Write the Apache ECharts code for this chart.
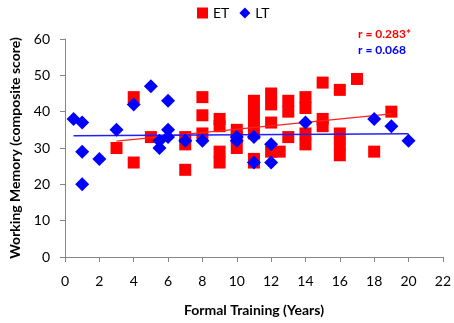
<!DOCTYPE html>
<html>
<head>
<meta charset="utf-8">
<script src="https://cdn.jsdelivr.net/npm/echarts@6/dist/echarts.min.js"></script>
<style>
  html, body { margin: 0; padding: 0; background: #fff; }
  #chart { width: 454px; height: 323px; }
</style>
</head>
<body>
<div id="chart"></div>
<script>
// ET group (red squares): [years, score]
var etPoints = [
  [3, 30],
  [4, 44], [4, 26],
  [5, 33],
  [7, 33], [7, 31], [7, 24],
  [8, 44], [8, 39], [8, 34],
  [9, 38], [9, 36], [9, 29], [9, 26],
  [10, 35], [10, 33], [10, 30],
  [11, 43], [11, 40], [11, 37], [11, 34], [11, 27], [11, 26],
  [12, 45], [12, 42], [12, 37], [12, 29], [12.5, 29],
  [13, 43], [13, 40], [13, 33],
  [14, 44], [14, 41], [14, 34], [14, 31],
  [15, 48], [15, 38], [15, 36],
  [16, 46], [16, 34], [16, 31], [16, 28],
  [17, 49],
  [18, 29],
  [19, 40]
];

// LT group (blue diamonds)
var ltPoints = [
  [0.5, 38],
  [1, 37], [1, 29], [1, 20],
  [2, 27],
  [3, 35],
  [4, 42],
  [5, 47],
  [5.5, 32], [5.5, 30],
  [6, 43], [6, 35], [6, 33],
  [7, 32],
  [8, 32],
  [10, 33], [10, 32],
  [11, 33], [11, 26],
  [12, 31], [12, 26],
  [14, 37],
  [18, 38],
  [19, 36],
  [20, 32]
];

// trend line end points
var etTrend = [[3, 31.9], [19, 39.4]];
var ltTrend = [[0.5, 33.4], [20, 33.9]];

var xTicks = [0, 2, 4, 6, 8, 10, 12, 14, 16, 18, 20, 22];
var yTicks = [0, 10, 20, 30, 40, 50, 60];

var chart = echarts.init(document.getElementById("chart"));

var axisFont = "Lato, 'Open Sans', sans-serif";

var option = {
  animation: false,
  textStyle: { fontFamily: axisFont },
  legend: {
    top: 1,
    left: 192,
    itemGap: 10,
    itemWidth: 11,
    itemHeight: 11,
    textStyle: { fontSize: 14, color: "#000", fontFamily: axisFont },
    data: [
      { name: "ET", icon: "rect" },
      { name: "LT", icon: "diamond" }
    ]
  },
  grid: {
    left: 59,
    right: 9,
    top: 39,
    bottom: 66
  },
  xAxis: {
    type: "value",
    min: xTicks[0],
    max: xTicks[xTicks.length - 1],
    interval: 2,
    name: "Formal Training (Years)",
    nameLocation: "middle",
    nameGap: 46,
    nameTextStyle: { fontSize: 14, fontWeight: "bold", color: "#000", fontFamily: axisFont },
    axisLine: { lineStyle: { color: "#868686", width: 1 } },
    axisTick: { show: true, inside: false, length: 5, lineStyle: { color: "#868686" } },
    axisLabel: { fontSize: 14, color: "#000", margin: 17, fontFamily: axisFont },
    splitLine: { show: false }
  },
  yAxis: {
    type: "value",
    min: yTicks[0],
    max: yTicks[yTicks.length - 1],
    interval: 10,
    name: "Working Memory (composite score)",
    nameLocation: "middle",
    nameGap: 43,
    nameTextStyle: { fontSize: 14, fontWeight: "bold", color: "#000", fontFamily: axisFont },
    axisLine: { show: true, lineStyle: { color: "#868686", width: 1 } },
    axisTick: { show: true, inside: false, length: 5, lineStyle: { color: "#868686" } },
    axisLabel: { fontSize: 14, color: "#000", margin: 15, fontFamily: axisFont },
    splitLine: { show: false }
  },
  graphic: [
    {
      type: "text",
      left: 358,
      top: 28,
      style: { text: "r = 0.283*", fill: "#ff0000", font: "bold 12px " + axisFont }
    },
    {
      type: "text",
      left: 358,
      top: 44,
      style: { text: "r = 0.068", fill: "#0000ff", font: "bold 12px " + axisFont }
    }
  ],
  series: [
    {
      name: "ET",
      type: "scatter",
      symbol: "rect",
      symbolSize: 12,
      itemStyle: { color: "#ff0000", opacity: 1 },
      data: etPoints,
      z: 2
    },
    {
      name: "ET trend",
      type: "line",
      data: etTrend,
      symbol: "none",
      lineStyle: { color: "#ff2020", width: 1.2 },
      z: 3
    },
    {
      name: "LT trend",
      type: "line",
      data: ltTrend,
      symbol: "none",
      lineStyle: { color: "#2020ff", width: 1.5 },
      z: 3
    },
    {
      name: "LT",
      type: "scatter",
      symbol: "diamond",
      symbolSize: 14,
      itemStyle: { color: "#0000ff", opacity: 1 },
      data: ltPoints,
      z: 4
    }
  ]
};

chart.setOption(option);
</script>
</body>
</html>
